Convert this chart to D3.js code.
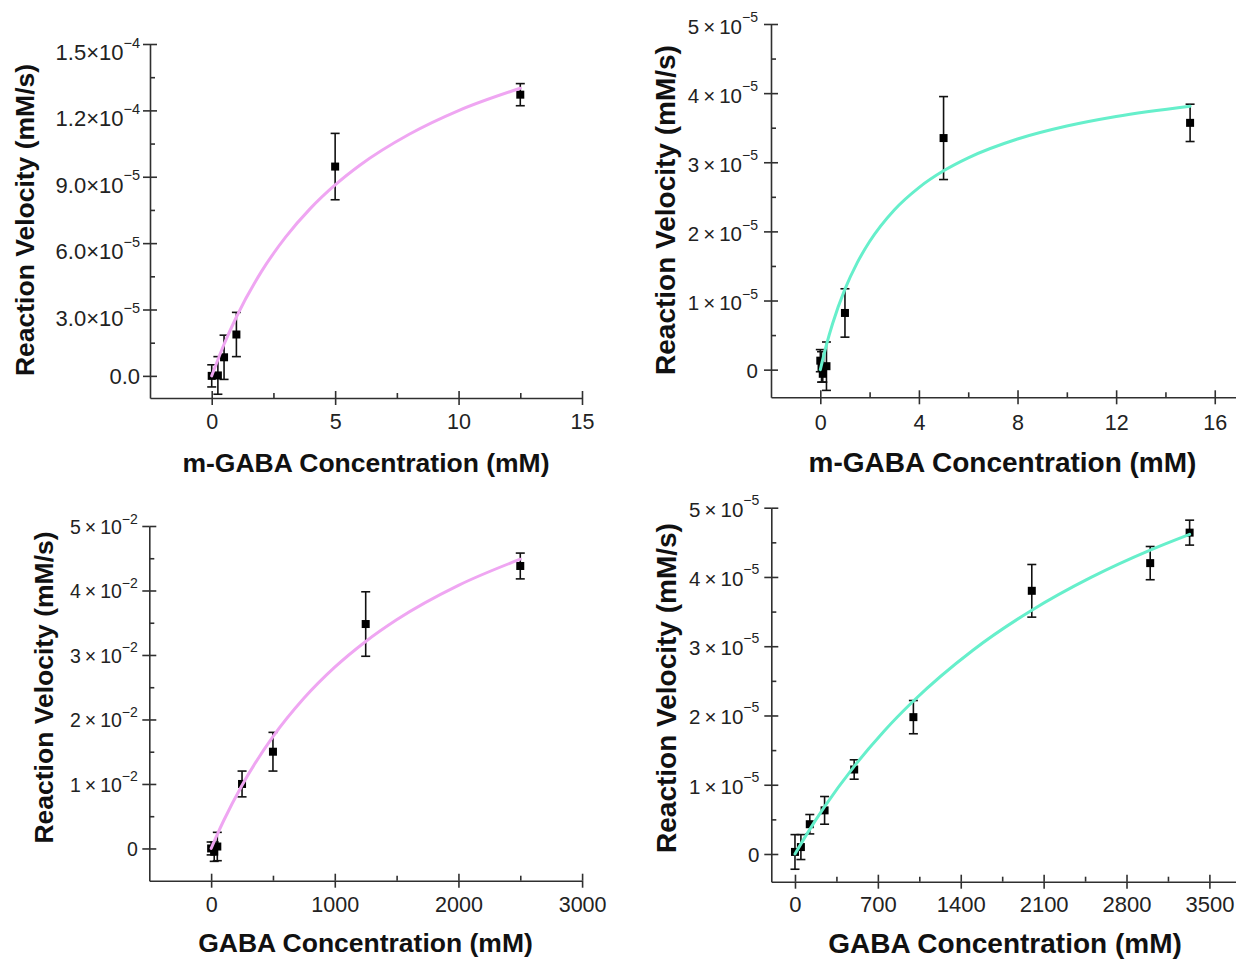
<!DOCTYPE html>
<html>
<head>
<meta charset="utf-8">
<script src="https://cdn.jsdelivr.net/npm/d3@7"></script>
<style>
  html, body { margin: 0; padding: 0; background: #ffffff; }
  svg { display: block; font-family: "Liberation Sans", Arial, Helvetica, sans-serif; }
</style>
</head>
<body>
<script>
// ---------------- DATA ----------------
// Panel 1: m-GABA (violet fit)
const p1X   = [0, 0.25, 0.5, 1, 5, 12.5];
const p1Y   = [0, 0.2e-6, 8.4e-6, 1.87e-5, 9.46e-5, 1.271e-4];
const p1Err = [5e-6, 8.5e-6, 1e-5, 1e-5, 1.5e-5, 5e-6];
const p1FitX = [0, 0.5, 1, 2, 3, 4, 5, 6, 8, 10, 12.5];
const p1FitY = [0, 1.43e-5, 2.66e-5, 4.69e-5, 6.28e-5, 7.57e-5, 8.63e-5, 9.52e-5, 1.092e-4, 1.199e-4, 1.30e-4];
const p1XTicks = [0, 5, 10, 15];
const p1XTickLabels = ["0", "5", "10", "15"];
const p1XMinor = [2.5, 7.5, 12.5];
const p1YTicks = [0, 3e-5, 6e-5, 9e-5, 1.2e-4, 1.5e-4];
const p1YMant = ["0.0", "3.0", "6.0", "9.0", "1.2", "1.5"];
const p1YExp  = ["", "\u22125", "\u22125", "\u22125", "\u22124", "\u22124"];
const p1YMinor = [1.5e-5, 4.5e-5, 7.5e-5, 1.05e-4, 1.35e-4];

// Panel 2: m-GABA (aquamarine fit)
const p2X   = [0, 0.05, 0.1, 0.25, 1, 5, 15];
const p2Y   = [1.3e-6, 0.4e-6, -0.6e-6, 0.5e-6, 8.2e-6, 3.35e-5, 3.57e-5];
const p2Err = [1.6e-6, 2.2e-6, 1.2e-6, 3.5e-6, 3.5e-6, 6e-6, 2.7e-6];
const p2FitX = [0, 0.25, 0.5, 1, 1.5, 2, 3, 4, 5, 6, 8, 10, 12, 15];
const p2FitY = [0, 3.6e-6, 6.67e-6, 1.164e-5, 1.548e-5, 1.853e-5, 2.31e-5, 2.634e-5, 2.876e-5, 3.064e-5, 3.336e-5, 3.524e-5, 3.662e-5, 3.811e-5];
const p2XTicks = [0, 4, 8, 12, 16];
const p2XTickLabels = ["0", "4", "8", "12", "16"];
const p2XMinor = [2, 6, 10, 14];
const p2YTicks = [0, 1e-5, 2e-5, 3e-5, 4e-5, 5e-5];
const p2YMant = ["0", "1", "2", "3", "4", "5"];
const p2YExp  = ["", "\u22125", "\u22125", "\u22125", "\u22125", "\u22125"];
const p2YMinor = [5e-6, 1.5e-5, 2.5e-5, 3.5e-5, 4.5e-5];

// Panel 3: GABA (violet fit)
const p3X   = [0, 25, 50, 250, 500, 1250, 2500];
const p3Y   = [0, -0.05e-2, 0.03e-2, 1.0e-2, 1.5e-2, 3.48e-2, 4.38e-2];
const p3Err = [0.1e-2, 0.15e-2, 0.22e-2, 0.2e-2, 0.3e-2, 0.5e-2, 0.2e-2];
const p3FitX = [0, 50, 100, 250, 500, 750, 1000, 1250, 1500, 2000, 2500];
const p3FitY = [0, 0.219e-2, 0.426e-2, 0.981e-2, 1.733e-2, 2.328e-2, 2.811e-2, 3.21e-2, 3.546e-2, 4.08e-2, 4.485e-2];
const p3XTicks = [0, 1000, 2000, 3000];
const p3XTickLabels = ["0", "1000", "2000", "3000"];
const p3XMinor = [500, 1500, 2500];
const p3YTicks = [0, 1e-2, 2e-2, 3e-2, 4e-2, 5e-2];
const p3YMant = ["0", "1", "2", "3", "4", "5"];
const p3YExp  = ["", "\u22122", "\u22122", "\u22122", "\u22122", "\u22122"];
const p3YMinor = [0.5e-2, 1.5e-2, 2.5e-2, 3.5e-2, 4.5e-2];

// Panel 4: GABA (aquamarine fit)
const p4X   = [0, 50, 125, 250, 500, 1000, 2000, 3000, 3333];
const p4Y   = [0.03e-5, 0.1e-5, 0.43e-5, 0.63e-5, 1.22e-5, 1.976e-5, 3.8e-5, 4.2e-5, 4.64e-5];
const p4Err = [0.25e-5, 0.18e-5, 0.14e-5, 0.2e-5, 0.14e-5, 0.24e-5, 0.38e-5, 0.24e-5, 0.18e-5];
const p4FitX = [0, 100, 250, 500, 750, 1000, 1500, 2000, 2500, 3000, 3333];
const p4FitY = [0, 0.287e-5, 0.683e-5, 1.266e-5, 1.77e-5, 2.209e-5, 2.939e-5, 3.52e-5, 3.994e-5, 4.388e-5, 4.615e-5];
const p4XTicks = [0, 700, 1400, 2100, 2800, 3500];
const p4XTickLabels = ["0", "700", "1400", "2100", "2800", "3500"];
const p4XMinor = [350, 1050, 1750, 2450, 3150];
const p4YTicks = [0, 1e-5, 2e-5, 3e-5, 4e-5, 5e-5];
const p4YMant = ["0", "1", "2", "3", "4", "5"];
const p4YExp  = ["", "\u22125", "\u22125", "\u22125", "\u22125", "\u22125"];
const p4YMinor = [5e-6, 1.5e-5, 2.5e-5, 3.5e-5, 4.5e-5];

const yTitle = "Reaction Velocity (mM/s)";
const xTitleM = "m-GABA Concentration (mM)";
const xTitleG = "GABA Concentration (mM)";

const violet = "#EFA6F2";
const aqua = "#66EFCB";

// ---------------- LAYOUT ----------------
const W = 1236, H = 959;
const svg = d3.select("body").append("svg").attr("width", W).attr("height", H);

const AX = "#303030";

function drawPanel(p) {
  const x = d3.scaleLinear().domain(p.xDomain).range([p.left, p.right]);
  const y = d3.scaleLinear().domain(p.yDomain).range([p.bottom, p.top]);
  const g = svg.append("g");

  // ---- X axis ----
  const gx = g.append("g").attr("transform", `translate(0,${p.bottom})`);
  gx.call(d3.axisBottom(x).tickValues(p.xTicks).tickSize(7).tickSizeOuter(0)
      .tickPadding(p.xPad).tickFormat((d, i) => p.xTickLabels[i]));
  gx.append("g").call(d3.axisBottom(x).tickValues(p.xTicks).tickSize(-7).tickSizeOuter(0).tickFormat(""))
    .call(s => s.select(".domain").remove());
  gx.append("g").call(d3.axisBottom(x).tickValues(p.xMinor).tickSize(-5).tickSizeOuter(0).tickFormat(""))
    .call(s => s.select(".domain").remove());
  gx.selectAll("text").attr("font-size", p.xFont).attr("fill", "#222")
    .attr("font-family", "Liberation Sans, Arial, sans-serif");

  // ---- Y axis ----
  const gy = g.append("g").attr("transform", `translate(${p.left},0)`);
  gy.call(d3.axisLeft(y).tickValues(p.yTicks).tickSize(7).tickSizeOuter(0)
      .tickPadding(p.yPad).tickFormat((d, i) => p.yMant[i]));
  gy.append("g").call(d3.axisLeft(y).tickValues(p.yTicks).tickSize(-7).tickSizeOuter(0).tickFormat(""))
    .call(s => s.select(".domain").remove());
  gy.append("g").call(d3.axisLeft(y).tickValues(p.yMinor).tickSize(-5).tickSizeOuter(0).tickFormat(""))
    .call(s => s.select(".domain").remove());
  gy.selectAll(":scope > .tick text").each(function(d, i) {
    const t = d3.select(this);
    t.attr("font-size", p.yFont).attr("fill", "#222")
     .attr("font-family", "Liberation Sans, Arial, sans-serif");
    const exp = p.yExp[i];
    if (exp) {
      t.text(null).attr("dy", null).attr("y", p.mainDy);
      t.append("tspan").text(p.yMant[i] + p.sep + "\u00d7" + p.sep + "10");
      t.append("tspan").attr("font-size", p.supFont).attr("dy", p.supDy).text(exp);
    } else {
      t.attr("dy", null).attr("y", p.zeroDy);
    }
  });

  g.selectAll(".domain, .tick line").attr("stroke", AX).attr("stroke-width", 1.6);

  // ---- Error bars ----
  const pts = p.xs.map((v, i) => ({ x: v, y: p.ys[i], e: p.errs[i] }));
  const eb = g.append("g").attr("stroke", "#111").attr("stroke-width", 1.6);
  eb.selectAll("line.v").data(pts).join("line").attr("class", "v")
    .attr("x1", d => x(d.x)).attr("x2", d => x(d.x))
    .attr("y1", d => y(d.y - d.e)).attr("y2", d => y(d.y + d.e));
  eb.selectAll("line.t").data(pts).join("line").attr("class", "t")
    .attr("x1", d => x(d.x) - 4.5).attr("x2", d => x(d.x) + 4.5)
    .attr("y1", d => y(d.y + d.e)).attr("y2", d => y(d.y + d.e));
  eb.selectAll("line.b").data(pts).join("line").attr("class", "b")
    .attr("x1", d => x(d.x) - 4.5).attr("x2", d => x(d.x) + 4.5)
    .attr("y1", d => y(d.y - d.e)).attr("y2", d => y(d.y - d.e));

  // ---- Markers ----
  g.append("g").selectAll("rect").data(pts).join("rect")
    .attr("x", d => x(d.x) - 4).attr("y", d => y(d.y) - 4)
    .attr("width", 8).attr("height", 8).attr("fill", "#000");

  // ---- Fit curve ----
  const fit = p.fitX.map((v, i) => [v, p.fitY[i]]);
  g.append("path").datum(fit)
    .attr("fill", "none").attr("stroke", p.color).attr("stroke-width", 3)
    .attr("stroke-linecap", "round")
    .attr("d", d3.line().x(d => x(d[0])).y(d => y(d[1])).curve(d3.curveMonotoneX));

  // ---- Titles ----
  g.append("text").attr("x", p.xtX).attr("y", p.xtY).attr("text-anchor", "middle")
    .attr("font-size", p.titleFont).attr("font-weight", "bold").attr("fill", "#111")
    .text(p.xTitle);
  g.append("text").attr("transform", `translate(${p.ytX},${p.ytY}) rotate(-90)`)
    .attr("text-anchor", "middle")
    .attr("font-size", p.titleFont).attr("font-weight", "bold").attr("fill", "#111")
    .text(yTitle);
}

drawPanel({
  left: 150, right: 582, top: 44, bottom: 398,
  xDomain: [-2.5, 15], yDomain: [-1e-5, 1.5e-4],
  xTicks: p1XTicks, xTickLabels: p1XTickLabels, xMinor: p1XMinor,
  yTicks: p1YTicks, yMant: p1YMant, yExp: p1YExp, yMinor: p1YMinor,
  xs: p1X, ys: p1Y, errs: p1Err, fitX: p1FitX, fitY: p1FitY, color: violet,
  xFont: 21.5, xPad: 9, yFont: 22, yPad: 3, supFont: 14.5, sep: "",
  mainDy: 15.5, supDy: -12.5, zeroDy: 7.7,
  titleFont: 26.5, xTitle: xTitleM, xtX: 366, xtY: 471.5, ytX: 34, ytY: 220
});

drawPanel({
  left: 771, right: 1239.4, top: 24, bottom: 397.3,
  xDomain: [-2, 17], yDomain: [-4e-6, 5e-5],
  xTicks: p2XTicks, xTickLabels: p2XTickLabels, xMinor: p2XMinor,
  yTicks: p2YTicks, yMant: p2YMant, yExp: p2YExp, yMinor: p2YMinor,
  xs: p2X, ys: p2Y, errs: p2Err, fitX: p2FitX, fitY: p2FitY, color: aqua,
  xFont: 21.5, xPad: 10, yFont: 20.5, yPad: 6, supFont: 14, sep: "\u2009",
  mainDy: 9.3, supDy: -11.6, zeroDy: 7.4,
  titleFont: 28, xTitle: xTitleM, xtX: 1002.5, xtY: 471.5, ytX: 675, ytY: 210
});

drawPanel({
  left: 149.3, right: 582.1, top: 526, bottom: 880.7,
  xDomain: [-500, 3000], yDomain: [-5e-3, 5e-2],
  xTicks: p3XTicks, xTickLabels: p3XTickLabels, xMinor: p3XMinor,
  yTicks: p3YTicks, yMant: p3YMant, yExp: p3YExp, yMinor: p3YMinor,
  xs: p3X, ys: p3Y, errs: p3Err, fitX: p3FitX, fitY: p3FitY, color: violet,
  xFont: 21.5, xPad: 9, yFont: 19.5, yPad: 4.5, supFont: 14, sep: "\u2009",
  mainDy: 7.3, supDy: -10.3, zeroDy: 7.2,
  titleFont: 26.5, xTitle: xTitleG, xtX: 365.5, xtY: 951.5, ytX: 53, ytY: 687.5
});

drawPanel({
  left: 771.3, right: 1239, top: 507.7, bottom: 881.7,
  xDomain: [-200, 3750], yDomain: [-4e-6, 5e-5],
  xTicks: p4XTicks, xTickLabels: p4XTickLabels, xMinor: p4XMinor,
  yTicks: p4YTicks, yMant: p4YMant, yExp: p4YExp, yMinor: p4YMinor,
  xs: p4X, ys: p4Y, errs: p4Err, fitX: p4FitX, fitY: p4FitY, color: aqua,
  xFont: 22, xPad: 8, yFont: 20.5, yPad: 5, supFont: 14, sep: "\u2009",
  mainDy: 8.5, supDy: -12, zeroDy: 7.4,
  titleFont: 28, xTitle: xTitleG, xtX: 1005, xtY: 953, ytX: 676, ytY: 688
});
</script>
</body>
</html>
